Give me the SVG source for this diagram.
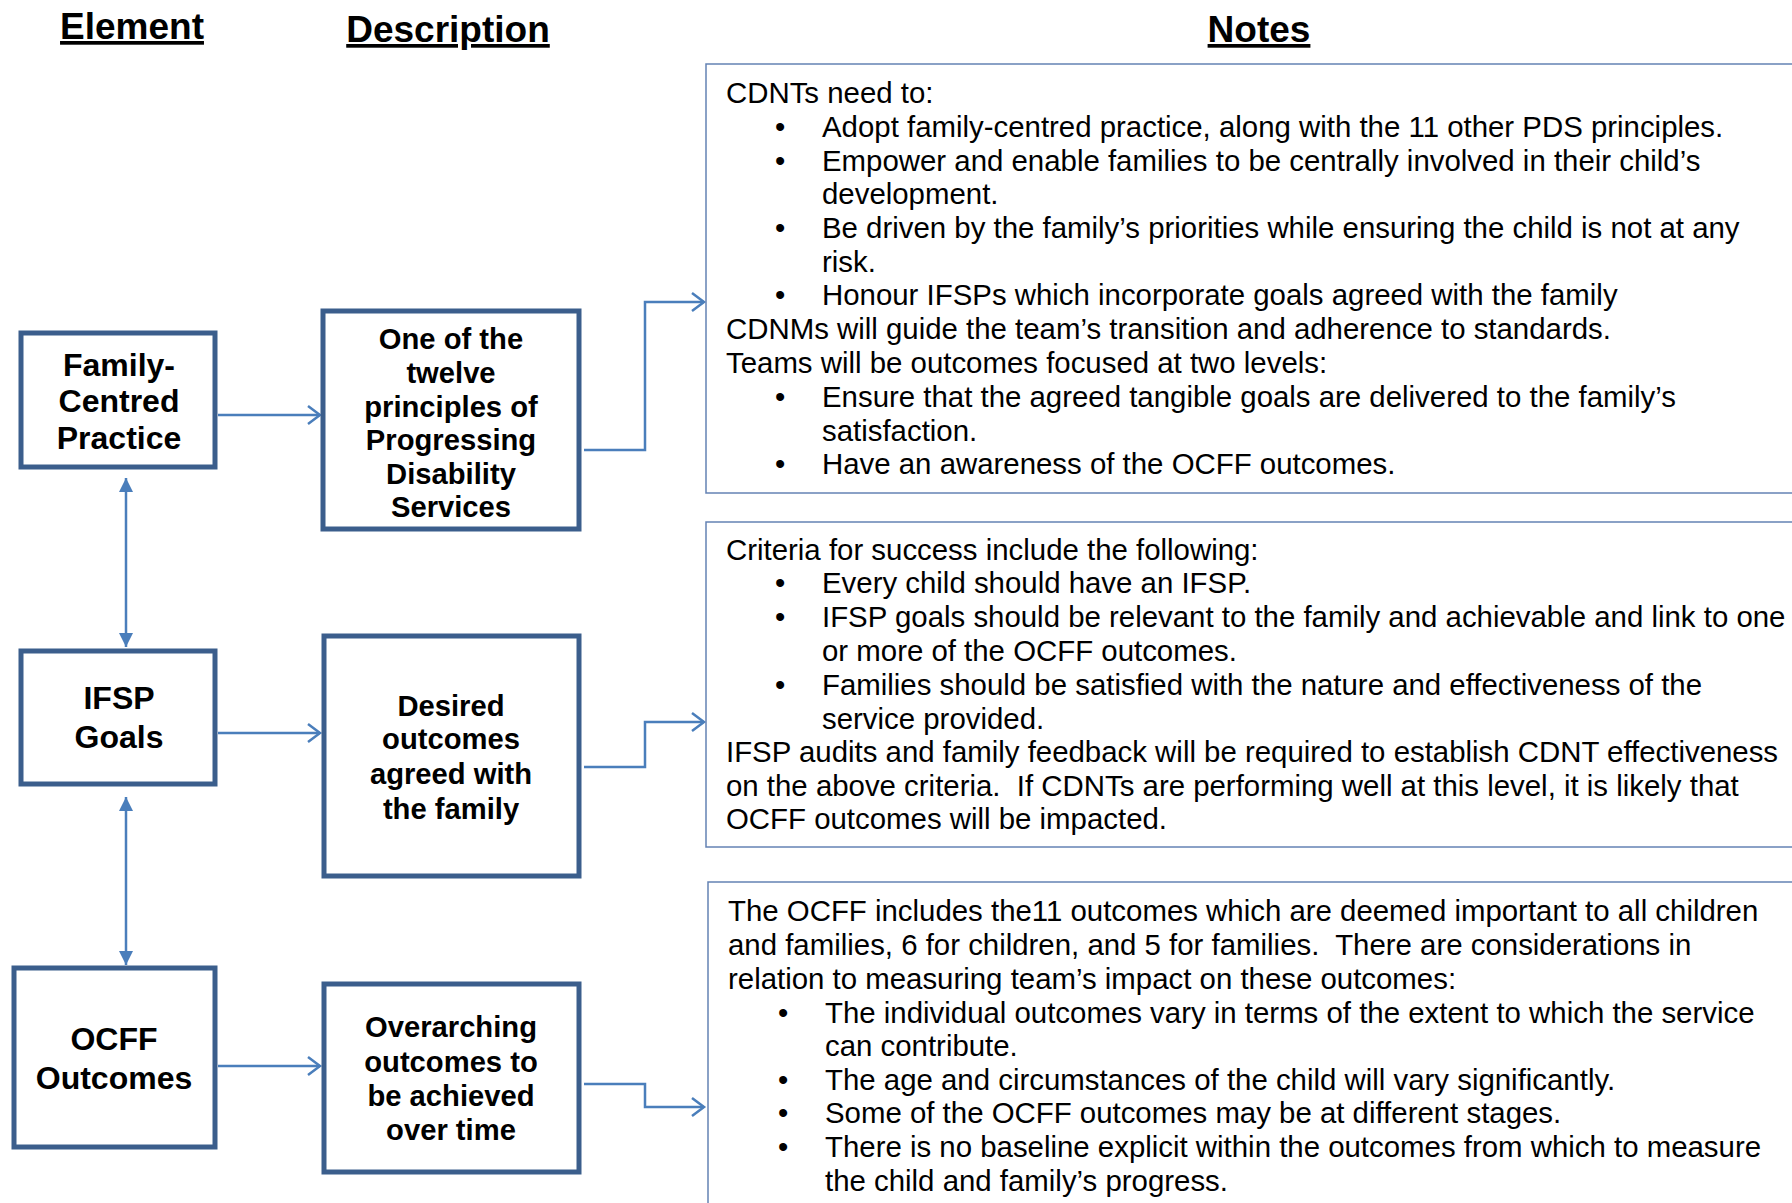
<svg xmlns="http://www.w3.org/2000/svg" width="1792" height="1203" viewBox="0 0 1792 1203">
<style>
.hdr{font-family:"Liberation Sans",Arial,sans-serif;font-weight:bold;font-size:37px;text-anchor:middle;text-decoration:underline;fill:#000}
.el{fill:#fff;stroke:#3B5E8C;stroke-width:5}
.elt{font-family:"Liberation Sans",Arial,sans-serif;font-weight:bold;font-size:32px;text-anchor:middle;fill:#000}
.dt{font-family:"Liberation Sans",Arial,sans-serif;font-weight:bold;font-size:29.2px;text-anchor:middle;fill:#000}
.nb{fill:#fff;stroke:#6482B4;stroke-width:1.5}
.nt{font-family:"Liberation Sans",Arial,sans-serif;font-size:29.4px;fill:#000;white-space:pre}
.con{fill:none;stroke:#4A7EBB;stroke-width:2.5}
</style>
<defs>
<marker id="chev" markerUnits="userSpaceOnUse" markerWidth="20" markerHeight="24" refX="16" refY="12" orient="auto">
<path d="M4,3 L16,12 L4,21" fill="none" stroke="#4A7EBB" stroke-width="2.5"/>
</marker>
<marker id="tri" markerUnits="userSpaceOnUse" markerWidth="16" markerHeight="16" refX="14" refY="7" orient="auto">
<path d="M0,0 L14,7 L0,14 Z" fill="#4A7EBB"/>
</marker>
<marker id="triS" markerUnits="userSpaceOnUse" markerWidth="16" markerHeight="16" refX="14" refY="7" orient="auto-start-reverse">
<path d="M0,0 L14,7 L0,14 Z" fill="#4A7EBB"/>
</marker>
</defs>
<rect width="1792" height="1203" fill="#fff"/>

<g id="headers">
<text class="hdr" x="132" y="39">Element</text>
<text class="hdr" x="448" y="42">Description</text>
<text class="hdr" x="1259" y="42">Notes</text>
</g>

<g id="connectors">
<line class="con" x1="218" y1="415" x2="320" y2="415" marker-end="url(#chev)"/>
<line class="con" x1="218" y1="733" x2="320" y2="733" marker-end="url(#chev)"/>
<line class="con" x1="218" y1="1066" x2="320" y2="1066" marker-end="url(#chev)"/>
<polyline class="con" points="584,450 645,450 645,302 704,302" marker-end="url(#chev)"/>
<polyline class="con" points="584,767 645,767 645,722 704,722" marker-end="url(#chev)"/>
<polyline class="con" points="584,1084 645,1084 645,1107 704,1107" marker-end="url(#chev)"/>
<line class="con" x1="126" y1="478" x2="126" y2="647" marker-start="url(#triS)" marker-end="url(#tri)"/>
<line class="con" x1="126" y1="797" x2="126" y2="965" marker-start="url(#triS)" marker-end="url(#tri)"/>
</g>

<g id="node-family">
<rect class="el" x="21" y="333" width="194" height="134"/>
<text class="elt" x="119" y="376">Family-</text>
<text class="elt" x="119" y="412">Centred</text>
<text class="elt" x="119" y="449">Practice</text>
</g>
<g id="node-ifsp">
<rect class="el" x="21" y="651" width="194" height="133"/>
<text class="elt" x="119" y="709">IFSP</text>
<text class="elt" x="119" y="748">Goals</text>
</g>
<g id="node-ocff">
<rect class="el" x="14" y="968" width="201" height="179"/>
<text class="elt" x="114" y="1050">OCFF</text>
<text class="elt" x="114" y="1089">Outcomes</text>
</g>

<g id="desc-1">
<rect class="el" x="323" y="311" width="256" height="218"/>
<text class="dt" x="451" y="349">One of the</text>
<text class="dt" x="451" y="383">twelve</text>
<text class="dt" x="451" y="417">principles of</text>
<text class="dt" x="451" y="450">Progressing</text>
<text class="dt" x="451" y="484">Disability</text>
<text class="dt" x="451" y="517">Services</text>
</g>
<g id="desc-2">
<rect class="el" x="324" y="636" width="255" height="240"/>
<text class="dt" x="451" y="716">Desired</text>
<text class="dt" x="451" y="749">outcomes</text>
<text class="dt" x="451" y="784">agreed with</text>
<text class="dt" x="451" y="819">the family</text>
</g>
<g id="desc-3">
<rect class="el" x="324" y="984" width="255" height="188"/>
<text class="dt" x="451" y="1037">Overarching</text>
<text class="dt" x="451" y="1072">outcomes to</text>
<text class="dt" x="451" y="1106">be achieved</text>
<text class="dt" x="451" y="1140">over time</text>
</g>

<g id="notes-1">
<rect class="nb" x="706" y="64" width="1100" height="429"/>
<text class="nt" x="726" y="103">CDNTs need to:</text>
<text class="nt" x="775" y="137">•</text><text class="nt" x="822" y="137">Adopt family-centred practice, along with the 11 other PDS principles.</text>
<text class="nt" x="775" y="171">•</text><text class="nt" x="822" y="171">Empower and enable families to be centrally involved in their child’s</text>
<text class="nt" x="822" y="204">development.</text>
<text class="nt" x="775" y="238">•</text><text class="nt" x="822" y="238">Be driven by the family’s priorities while ensuring the child is not at any</text>
<text class="nt" x="822" y="272">risk.</text>
<text class="nt" x="775" y="305">•</text><text class="nt" x="822" y="305">Honour IFSPs which incorporate goals agreed with the family</text>
<text class="nt" x="726" y="339">CDNMs will guide the team’s transition and adherence to standards.</text>
<text class="nt" x="726" y="373">Teams will be outcomes focused at two levels:</text>
<text class="nt" x="775" y="407">•</text><text class="nt" x="822" y="407">Ensure that the agreed tangible goals are delivered to the family’s</text>
<text class="nt" x="822" y="441">satisfaction.</text>
<text class="nt" x="775" y="474">•</text><text class="nt" x="822" y="474">Have an awareness of the OCFF outcomes.</text>
</g>

<g id="notes-2">
<rect class="nb" x="706" y="522" width="1100" height="325"/>
<text class="nt" x="726" y="560">Criteria for success include the following:</text>
<text class="nt" x="775" y="593">•</text><text class="nt" x="822" y="593">Every child should have an IFSP.</text>
<text class="nt" x="775" y="627">•</text><text class="nt" x="822" y="627">IFSP goals should be relevant to the family and achievable and link to one</text>
<text class="nt" x="822" y="661">or more of the OCFF outcomes.</text>
<text class="nt" x="775" y="695">•</text><text class="nt" x="822" y="695">Families should be satisfied with the nature and effectiveness of the</text>
<text class="nt" x="822" y="729">service provided.</text>
<text class="nt" x="726" y="762">IFSP audits and family feedback will be required to establish CDNT effectiveness</text>
<text class="nt" x="726" y="796" xml:space="preserve">on the above criteria.  If CDNTs are performing well at this level, it is likely that</text>
<text class="nt" x="726" y="829">OCFF outcomes will be impacted.</text>
</g>

<g id="notes-3">
<rect class="nb" x="708" y="882" width="1100" height="340"/>
<text class="nt" x="728" y="921">The OCFF includes the11 outcomes which are deemed important to all children</text>
<text class="nt" x="728" y="955" xml:space="preserve">and families, 6 for children, and 5 for families.  There are considerations in</text>
<text class="nt" x="728" y="989">relation to measuring team’s impact on these outcomes:</text>
<text class="nt" x="778" y="1023">•</text><text class="nt" x="825" y="1023">The individual outcomes vary in terms of the extent to which the service</text>
<text class="nt" x="825" y="1056">can contribute.</text>
<text class="nt" x="778" y="1090">•</text><text class="nt" x="825" y="1090">The age and circumstances of the child will vary significantly.</text>
<text class="nt" x="778" y="1123">•</text><text class="nt" x="825" y="1123">Some of the OCFF outcomes may be at different stages.</text>
<text class="nt" x="778" y="1157">•</text><text class="nt" x="825" y="1157">There is no baseline explicit within the outcomes from which to measure</text>
<text class="nt" x="825" y="1191">the child and family’s progress.</text>
</g>
</svg>
